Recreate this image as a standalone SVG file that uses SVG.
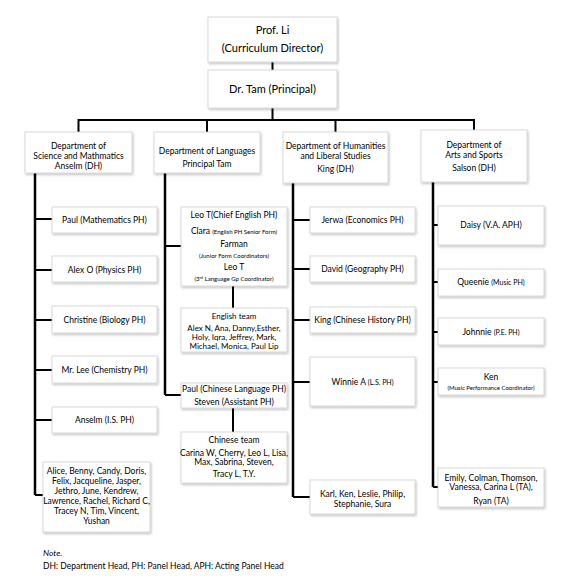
<svg xmlns="http://www.w3.org/2000/svg" width="577" height="584" viewBox="0 0 577 584">
<defs>
<filter id="sh" x="-10%" y="-10%" width="130%" height="140%">
<feDropShadow dx="1" dy="1.5" stdDeviation="1" flood-color="#000" flood-opacity="0.25"/>
</filter>
</defs>
<style>
.box{fill:#fff;stroke:#cfcfcf;stroke-width:0.8;filter:url(#sh)}
text{font-family:Lato,"Open Sans","Liberation Sans",sans-serif;fill:#000;text-anchor:middle;font-size:8.5px}
.big{font-size:11px}
.sm{font-size:6px}
.md{font-size:7px}
.t8{font-size:8px}
.note{text-anchor:start;font-size:8.5px}
.ln{stroke:#000;stroke-width:2;fill:none}
.sp{stroke:#000;stroke-width:2.5;fill:none}
</style>
<rect width="577" height="584" fill="#fff"/>
<g id="connectors">
<path class="ln" d="M272.5,62V70M272.5,108V120"/>
<path class="ln" d="M78.5,120H474M78.5,119V132M207,119V132M335.5,119V132M474,119V130"/>
<path class="sp" d="M35,173V495"/>
<path class="ln" d="M35,219H52M35,270H52M35,320H52M35,370H52M35,420H52M35,495H43"/>
<path class="sp" d="M165,173V395"/>
<path class="ln" d="M165,246H181M165,395H181M233,286V308M233,408V432"/>
<path class="sp" d="M293,183V497"/>
<path class="ln" d="M293,220H310M293,269H310M293,320H310M293,382H310M293,497H310"/>
<path class="sp" d="M433,182V487"/>
<path class="ln" d="M433,225H438M433,282H438M433,332H438M433,382H438M433,487H438"/>
</g>
<g id="prof"><rect class="box" x="208" y="17" width="129" height="45"/><text class="big" x="272.5" y="34">Prof. Li</text><text class="big" x="272.5" y="52">(Curriculum Director)</text></g>
<g id="tam"><rect class="box" x="208" y="70" width="129" height="38"/><text class="big" x="272.5" y="93">Dr. Tam (Principal)</text></g>
<g id="dept1"><rect class="box" x="25" y="132" width="107" height="41"/><text x="78.5" y="149">Department of</text><text x="78.5" y="159">Science and Mathmatics</text><text x="78.5" y="169">Anselm (DH)</text></g>
<g id="dept2"><rect class="box" x="154" y="132" width="106" height="41"/><text x="207" y="154">Department of Languages</text><text x="207" y="167">Principal Tam</text></g>
<g id="dept3"><rect class="box" x="283" y="132" width="105" height="51"/><text x="335.5" y="149">Department of Humanities</text><text x="335.5" y="159">and Liberal Studies</text><text x="335.5" y="172">King (DH)</text></g>
<g id="dept4"><rect class="box" x="421" y="130" width="106" height="52"/><text x="474" y="148">Department of</text><text x="474" y="158">Arts and Sports</text><text x="474" y="171">Salson (DH)</text></g>
<g id="paul-math"><rect class="box" x="52" y="207" width="105" height="26"/><text x="104.5" y="223">Paul (Mathematics PH)</text></g>
<g id="alex"><rect class="box" x="52" y="256" width="105" height="26"/><text x="104.5" y="273">Alex O (Physics PH)</text></g>
<g id="christine"><rect class="box" x="52" y="306" width="105" height="27"/><text x="104.5" y="323">Christine (Biology PH)</text></g>
<g id="lee"><rect class="box" x="52" y="356" width="105" height="27"/><text x="104.5" y="373">Mr. Lee (Chemistry PH)</text></g>
<g id="anselm"><rect class="box" x="52" y="407" width="105" height="26"/><text x="104.5" y="423">Anselm (I.S. PH)</text></g>
<g id="sci-team"><rect class="box" x="43" y="462" width="107" height="70"/><text x="96.5" y="474">Alice, Benny, Candy, Doris,</text><text x="96.5" y="484">Felix, Jacqueline,  Jasper,</text><text x="96.5" y="494">Jethro,  June, Kendrew,</text><text x="96.5" y="504">Lawrence, Rachel,  Richard C,</text><text x="96.5" y="514">Tracey N, Tim, Vincent,</text><text x="96.5" y="524">Yushan</text></g>
<g id="leo"><rect class="box" x="181" y="207" width="106" height="79"/><text x="234" y="218">Leo T(Chief English PH)</text><text x="234" y="234">Clara <tspan class="sm">(English PH Senior Form)</tspan></text><text x="234" y="247">Farman</text><text class="sm" x="234" y="258">(Junior Form Coordinators)</text><text x="234" y="270">Leo T</text><text class="sm" x="234" y="281">(3<tspan font-size="4" dy="-2">rd</tspan><tspan dy="2"> Language Gp Coordinator)</tspan></text></g>
<g id="english-team"><rect class="box" x="181" y="308" width="106" height="44"/><text class="t8" x="234" y="319">English team</text><text class="t8" x="234" y="331">Alex N, Ana, Danny,Esther,</text><text class="t8" x="234" y="340">Holy, Iqra, Jeffrey, Mark,</text><text class="t8" x="234" y="349">Michael, Monica, Paul Lip</text></g>
<g id="paul-chinese"><rect class="box" x="181" y="383" width="106" height="25"/><text x="234" y="392">Paul (Chinese Language PH)</text><text x="234" y="405">Steven (Assistant PH)</text></g>
<g id="chinese-team"><rect class="box" x="181" y="432" width="106" height="51"/><text x="234" y="443">Chinese team</text><text x="234" y="456">Carina W, Cherry, Leo L,  Lisa,</text><text x="234" y="465">Max, Sabrina, Steven,</text><text x="234" y="477">Tracy L, T.Y.</text></g>
<g id="jerwa"><rect class="box" x="310" y="207" width="105" height="26"/><text x="362.5" y="223">Jerwa (Economics PH)</text></g>
<g id="david"><rect class="box" x="310" y="256" width="105" height="26"/><text x="362.5" y="272">David (Geography PH)</text></g>
<g id="king"><rect class="box" x="310" y="307" width="105" height="26"/><text x="362.5" y="323">King (Chinese History PH)</text></g>
<g id="winnie"><rect class="box" x="310" y="357" width="105" height="49"/><text x="362.5" y="385" font-size="9.5">Winnie A  <tspan class="md">(L.S. PH)</tspan></text></g>
<g id="hum-team"><rect class="box" x="310" y="480" width="105" height="34"/><text x="362.5" y="497">Karl, Ken, Leslie, Philip,</text><text x="362.5" y="507">Stephanie, Sura</text></g>
<g id="daisy"><rect class="box" x="438" y="206" width="106" height="39"/><text x="491" y="228">Daisy (V.A. APH)</text></g>
<g id="queenie"><rect class="box" x="438" y="269" width="106" height="27"/><text x="491" y="285">Queenie <tspan class="md">(Music PH)</tspan></text></g>
<g id="johnnie"><rect class="box" x="438" y="318" width="106" height="27"/><text x="491" y="335">Johnnie <tspan class="md">(P.E. PH)</tspan></text></g>
<g id="ken"><rect class="box" x="438" y="368" width="106" height="27"/><text x="491" y="380">Ken</text><text class="sm" x="491" y="390">(Music Performance Coordinator)</text></g>
<g id="arts-team"><rect class="box" x="438" y="468" width="106" height="39"/><text x="491" y="481">Emily, Colman, Thomson,</text><text x="491" y="490">Vanessa, Carina L (TA),</text><text x="491" y="504">Ryan (TA)</text></g>
<g id="note"><text class="note" x="43" y="556" font-style="italic">Note.</text><text class="note" x="43" y="569">DH: Department Head, PH: Panel Head, APH: Acting Panel Head</text></g>
</svg>
